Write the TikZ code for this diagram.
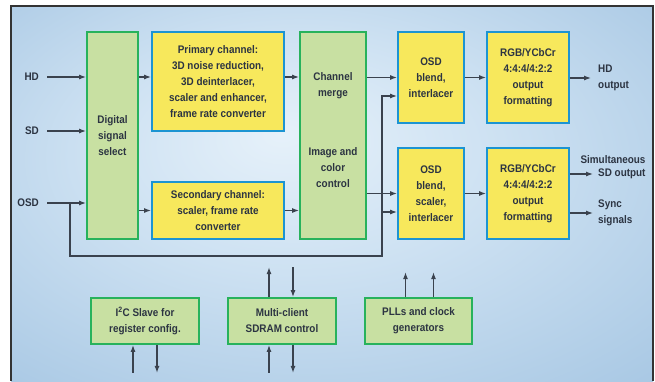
\documentclass[tikz,border=0pt]{standalone}
\usepackage{fontspec}
\setmainfont{Liberation Sans}[FakeStretch=0.9]
\usetikzlibrary{arrows.meta}

\definecolor{chfill}{RGB}{247,232,92}
\definecolor{chdraw}{RGB}{28,148,210}
\definecolor{ctfill}{RGB}{200,224,162}
\definecolor{ctdraw}{RGB}{40,178,92}
\definecolor{txtdark}{RGB}{44,52,66}
\definecolor{wire}{RGB}{58,66,78}
\definecolor{bglight}{RGB}{230,241,250}
\definecolor{bgmid}{RGB}{205,225,242}
\definecolor{bgdark}{RGB}{148,186,220}
\pgfdeclareradialshading{bgglow}{\pgfpoint{-4bp}{8bp}}{%
  color(0bp)=(bglight); color(16bp)=(bgmid); color(50bp)=(bgdark)}

\begin{document}
\begin{tikzpicture}[
  x=1pt, y=-1pt,
  font=\bfseries\fontsize{11}{16}\selectfont,
  chbox/.style={draw=chdraw, fill=chfill, line width=1.8pt, align=center, inner sep=0pt, text=txtdark},
  ctbox/.style={draw=ctdraw, fill=ctfill, line width=1.8pt, align=center, inner sep=0pt, text=txtdark},
  lbl/.style={text=txtdark, inner sep=0pt},
  sig/.style={line width=1.2pt, draw=wire, -{Latex[length=7pt,width=5pt]}}
]
  \useasboundingbox (0,0) rectangle (655,381);

  % Fondo y marco
  \shade[shading=bgglow] (11,6) rectangle (653,381);
  \draw[line width=1.5pt, black!80] (11,381) -- (11,6) -- (653,6) -- (653,381);

  % Entradas
  \node[lbl, anchor=east] (hd)  at (39,77)  {HD};
  \node[lbl, anchor=east] (sd)  at (39,131) {SD};
  \node[lbl, anchor=east] (osd) at (39,203) {OSD};

  % Bloques de proceso
  \node[ctbox, minimum width=51pt, minimum height=207pt] (sel) at (112.5,135.5) {Digital\\signal\\select};
  \node[chbox, minimum width=132pt, minimum height=99pt] (prim) at (218,81.5)
    {Primary channel:\\3D noise reduction,\\3D deinterlacer,\\scaler and enhancer,\\frame rate converter};
  \node[chbox, minimum width=132pt, minimum height=57pt] (sec) at (218,210.5)
    {Secondary channel:\\scaler, frame rate\\converter};
  \node[ctbox, minimum width=66pt, minimum height=207pt] (merge) at (333,135.5) {};
  \node[lbl, align=center] (mergetxt) at (333,86) {Channel\\merge};
  \node[lbl, align=center] (colortxt) at (333,168) {Image and\\color\\control};
  \node[chbox, minimum width=66pt, minimum height=91pt] (osd1) at (431,77.5) {OSD\\blend,\\interlacer};
  \node[chbox, minimum width=82pt, minimum height=91pt] (rgb1) at (528,77.5) {RGB/YCbCr\\4:4:4/4:2:2\\output\\formatting};
  \node[chbox, minimum width=66pt, minimum height=91pt] (osd2) at (431,193.5) {OSD\\blend,\\scaler,\\interlacer};
  \node[chbox, minimum width=82pt, minimum height=91pt] (rgb2) at (528,193.5) {RGB/YCbCr\\4:4:4/4:2:2\\output\\formatting};

  % Bloques de control
  \node[ctbox, minimum width=108pt, minimum height=46pt] (i2c) at (145,321) {I\textsuperscript{2}C Slave for\\register config.};
  \node[ctbox, minimum width=108pt, minimum height=46pt] (sdram) at (282,321) {Multi-client\\SDRAM control};
  \node[ctbox, minimum width=107pt, minimum height=46pt] (pll) at (418.5,321) {PLLs and clock\\generators};

  % Salidas
  \node[lbl, anchor=west, align=left] (hdout) at (598,78) {HD\\output};
  \node[lbl, anchor=west] (sdout) at (598,174) {SD output};
  \node[lbl, anchor=south east] (simul) at ([yshift=5pt]sdout.north east) {Simultaneous};
  \node[lbl, anchor=west, align=left] (sync) at (598,213) {Sync\\signals};

  % Conexiones
  \draw[sig] ([xshift=8pt]hd.east) -- (sel.west |- hd);
  \draw[sig] ([xshift=8pt]sd.east) -- (sel.west |- sd);
  \draw[sig] ([xshift=8pt]osd.east) -- (sel.west |- osd);
  \draw[sig] (sel.east |- hd) -- (prim.west |- hd);
  \draw[sig] (sel.east |- sec) -- (sec.west);
  \draw[sig] (prim.east |- hd) -- (merge.west |- hd);
  \draw[sig] (sec.east) -- (merge.west |- sec);
  \draw[sig] (merge.east |- osd1) -- (osd1.west);
  \draw[sig] (merge.east |- osd2) -- (osd2.west);
  \draw[sig] (osd1) -- (rgb1);
  \draw[sig] (osd2) -- (rgb2);
  \draw[sig] (rgb1.east |- hdout) -- ([xshift=-7pt]hdout.west);
  \draw[sig] (rgb2.east |- sdout) -- ([xshift=-5pt]sdout.west);
  \draw[sig] (rgb2.east |- sync) -- ([xshift=-5pt]sync.west);

  % Derivación OSD
  \coordinate (osdtap) at (70,203);
  \coordinate (osdbus) at (382,256);
  \draw[sig] (osdtap) |- (osdbus) |- ([yshift=-18.5pt]osd1.west);
  \draw[sig] (osdbus) |- ([yshift=-18.5pt]osd2.west);

  % Flechas de control
  \draw[sig] ([xshift=-12pt]i2c.south) ++(0,28) -- ([xshift=-12pt]i2c.south);
  \draw[sig] ([xshift=12pt]i2c.south) -- ++(0,28);
  \draw[sig] ([xshift=-13pt]sdram.south) ++(0,28) -- ([xshift=-13pt]sdram.south);
  \draw[sig] ([xshift=11pt]sdram.south) -- ++(0,28);
  \draw[sig] ([xshift=-13pt]sdram.north) -- ++(0,-30);
  \draw[sig] ([xshift=11pt]sdram.north) ++(0,-30) -- ([xshift=11pt]sdram.north);
  \draw[sig] ([xshift=-13pt]pll.north) -- ++(0,-25);
  \draw[sig] ([xshift=15pt]pll.north) -- ++(0,-25);
\end{tikzpicture}
\end{document}
